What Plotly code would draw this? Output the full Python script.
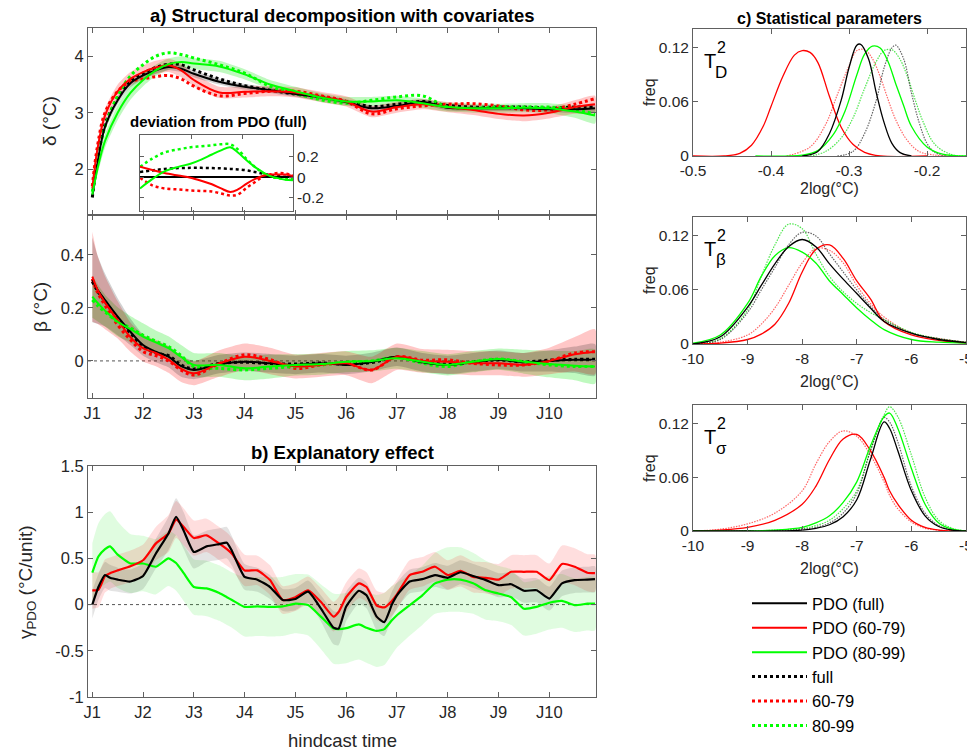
import plotly.graph_objects as go

FONT = "Liberation Sans, Arial, sans-serif"

# ---------------- data ----------------
# hindcast time in years (J1 = 1)
t_a = [1.0, 1.1, 1.25, 1.5, 1.75, 2.0, 2.25, 2.5, 2.75, 3.0, 3.5, 4.0, 4.5, 5.0, 5.5,
       6.0, 6.5, 7.0, 7.5, 8.0, 8.5, 9.0, 9.5, 10.0, 10.5, 10.9]

delta_pdo_full = [1.52, 2.1, 2.75, 3.22, 3.52, 3.66, 3.75, 3.81, 3.78, 3.69, 3.55, 3.46, 3.4, 3.33, 3.27,
                  3.19, 3.08, 3.12, 3.19, 3.09, 3.08, 3.08, 3.08, 3.06, 3.06, 3.08]
delta_pdo_6079 = [1.66, 2.35, 2.95, 3.38, 3.6, 3.72, 3.8, 3.84, 3.75, 3.58, 3.36, 3.37, 3.38, 3.36, 3.28,
                  3.2, 3.02, 3.1, 3.15, 3.1, 3.05, 2.98, 2.95, 3.0, 3.1, 3.15]
delta_pdo_8099 = [1.55, 2.0, 2.5, 3.0, 3.35, 3.58, 3.75, 3.86, 3.9, 3.87, 3.82, 3.68, 3.5, 3.38, 3.27,
                  3.2, 3.2, 3.22, 3.17, 3.1, 3.08, 3.08, 3.09, 3.08, 3.02, 2.95]
delta_full = [1.5, 2.15, 2.8, 3.25, 3.55, 3.7, 3.8, 3.86, 3.85, 3.76, 3.6, 3.48, 3.4, 3.33, 3.28,
              3.2, 3.11, 3.15, 3.2, 3.13, 3.1, 3.1, 3.1, 3.08, 3.1, 3.1]
delta_6079 = [1.7, 2.4, 3.0, 3.38, 3.55, 3.6, 3.64, 3.66, 3.6, 3.47, 3.3, 3.34, 3.38, 3.38, 3.3,
              3.2, 2.98, 3.07, 3.12, 3.15, 3.16, 3.12, 3.05, 3.05, 3.15, 3.25]
delta_8099 = [1.6, 2.15, 2.75, 3.3, 3.65, 3.85, 4.0, 4.06, 4.03, 3.97, 3.85, 3.7, 3.47, 3.34, 3.23,
              3.17, 3.22, 3.28, 3.3, 3.1, 3.08, 3.1, 3.1, 3.1, 3.05, 2.98]
delta_unc_full = [0.04, 0.06, 0.07, 0.07, 0.07, 0.07, 0.06, 0.06, 0.06, 0.06, 0.05, 0.05, 0.05, 0.05, 0.05,
                  0.05, 0.05, 0.05, 0.05, 0.05, 0.05, 0.05, 0.05, 0.05, 0.06, 0.07]
delta_unc_6079 = [0.05, 0.1, 0.12, 0.12, 0.12, 0.12, 0.12, 0.12, 0.12, 0.11, 0.1, 0.1, 0.09, 0.09, 0.09,
                  0.09, 0.1, 0.1, 0.09, 0.09, 0.09, 0.09, 0.1, 0.1, 0.12, 0.15]
delta_unc_8099 = [0.05, 0.1, 0.12, 0.13, 0.12, 0.11, 0.1, 0.1, 0.1, 0.1, 0.1, 0.09, 0.08, 0.08, 0.08,
                  0.08, 0.08, 0.08, 0.08, 0.08, 0.08, 0.08, 0.08, 0.09, 0.11, 0.14]

beta_pdo_full = [0.306, 0.27, 0.23, 0.167, 0.11, 0.06, 0.035, 0.016, -0.02, -0.034, -0.012, -0.003, -0.009,
                 -0.015, -0.009, -0.015, -0.004, 0.016, -0.005, -0.015, -0.005, 0.004, -0.005, 0.0, 0.004, 0.004]
beta_pdo_6079 = [0.318, 0.27, 0.22, 0.155, 0.09, 0.048, 0.03, 0.005, -0.03, -0.047, -0.01, 0.016, 0.0,
                 -0.021, -0.015, -0.009, -0.034, 0.016, 0.0, -0.003, -0.009, -0.009, -0.015, 0.0, 0.025, 0.035]
beta_pdo_8099 = [0.243, 0.22, 0.19, 0.148, 0.12, 0.092, 0.07, 0.048, 0.015, -0.015, -0.015, -0.028, -0.021,
                 -0.015, -0.012, -0.003, 0.0, 0.01, -0.003, -0.015, -0.003, 0.007, -0.003, -0.012, -0.018, -0.021]
beta_full = [0.3, 0.265, 0.225, 0.16, 0.105, 0.055, 0.03, 0.02, -0.015, -0.03, -0.01, -0.005, -0.01,
             -0.012, -0.008, -0.012, -0.006, 0.014, -0.004, -0.012, -0.004, 0.004, -0.004, 0.003, 0.006, 0.006]
beta_6079 = [0.31, 0.26, 0.21, 0.136, 0.08, 0.035, 0.02, 0.0, -0.035, -0.053, -0.01, 0.023, 0.005,
             -0.028, -0.015, -0.009, -0.034, 0.016, 0.003, 0.004, -0.009, -0.015, -0.015, 0.0, 0.03, 0.035]
beta_8099 = [0.23, 0.21, 0.185, 0.148, 0.125, 0.097, 0.075, 0.054, 0.02, -0.021, -0.028, -0.034, -0.028,
             -0.021, -0.015, -0.005, 0.0, 0.013, -0.009, -0.021, -0.003, 0.007, -0.003, -0.015, -0.021, -0.021]
beta_unc_full = [0.16, 0.13, 0.1, 0.07, 0.05, 0.04, 0.04, 0.04, 0.04, 0.035, 0.035, 0.035, 0.035,
                 0.035, 0.035, 0.035, 0.035, 0.035, 0.035, 0.035, 0.035, 0.035, 0.035, 0.04, 0.05, 0.06]
beta_unc_6079 = [0.17, 0.13, 0.1, 0.07, 0.055, 0.05, 0.05, 0.05, 0.05, 0.045, 0.05, 0.05, 0.05,
                 0.045, 0.045, 0.045, 0.05, 0.05, 0.045, 0.045, 0.045, 0.045, 0.045, 0.05, 0.065, 0.085]
beta_unc_8099 = [0.08, 0.07, 0.06, 0.055, 0.05, 0.05, 0.045, 0.045, 0.045, 0.045, 0.045, 0.045, 0.045,
                 0.04, 0.04, 0.04, 0.04, 0.04, 0.04, 0.04, 0.04, 0.04, 0.045, 0.05, 0.055, 0.065]

# inset: deviation from PDO (full), normalised position along inset
s_inset = [0, 0.08, 0.16, 0.25, 0.33, 0.4, 0.47, 0.53, 0.59, 0.64, 0.7, 0.75, 0.8, 0.85, 0.9, 0.95, 1.0]
dev_pdo_full = [0, 0, 0, 0, 0, 0, 0, 0, 0, 0, 0, 0, 0, 0, 0, 0, 0]
dev_pdo_6079 = [0.1, 0.07, 0.04, 0.015, -0.006, -0.035, -0.07, -0.11, -0.145, -0.12, -0.06, -0.02, 0.01, 0.025, 0.025, 0.025, 0.01]
dev_pdo_8099 = [-0.11, -0.02, 0.055, 0.1, 0.13, 0.17, 0.22, 0.26, 0.29, 0.24, 0.16, 0.1, 0.05, 0.01, -0.01, -0.025, -0.03]
dev_full = [0.05, 0.065, 0.08, 0.088, 0.09, 0.09, 0.088, 0.085, 0.08, 0.075, 0.065, 0.05, 0.035, 0.02, 0.01, 0.003, 0.0]
dev_6079 = [-0.006, -0.08, -0.11, -0.12, -0.13, -0.135, -0.14, -0.16, -0.18, -0.17, -0.1, -0.05, 0.0, 0.025, 0.04, 0.035, 0.015]
dev_8099 = [0.1, 0.18, 0.24, 0.27, 0.29, 0.3, 0.31, 0.32, 0.32, 0.27, 0.17, 0.1, 0.045, 0.005, -0.01, -0.02, -0.02]

# panel b: explanatory effect gamma_PDO
t_b = [1.0, 1.12, 1.25, 1.35, 1.5, 1.75, 2.0, 2.25, 2.5, 2.65, 2.8, 3.0, 3.25, 3.5, 3.65, 3.75,
       4.0, 4.25, 4.5, 4.75, 5.0, 5.25, 5.5, 5.75, 5.85, 6.0, 6.25, 6.4, 6.6, 6.75, 6.9,
       7.0, 7.25, 7.5, 7.75, 8.0, 8.25, 8.5, 8.75, 9.0, 9.25, 9.5, 9.75, 10.0, 10.25, 10.5, 10.75, 10.9]
gamma_full = [0.0, 0.19, 0.32, 0.29, 0.27, 0.25, 0.31, 0.55, 0.77, 0.95, 0.80, 0.57, 0.63, 0.655, 0.67, 0.58,
              0.30, 0.27, 0.19, 0.05, 0.06, 0.14, -0.04, -0.25, -0.26, -0.02, 0.15, 0.10, -0.13, -0.19, 0.0,
              0.10, 0.25, 0.275, 0.32, 0.29, 0.35, 0.31, 0.265, 0.21, 0.22, 0.15, 0.155, 0.065, 0.23, 0.265, 0.27, 0.275]
gamma_6079 = [0.155, 0.16, 0.31, 0.34, 0.37, 0.415, 0.48, 0.66, 0.77, 0.92, 0.84, 0.72, 0.75, 0.66, 0.60, 0.55,
              0.37, 0.37, 0.265, 0.05, 0.08, 0.155, 0.03, -0.13, -0.08, 0.08, 0.23, 0.19, -0.01, -0.03, 0.04,
              0.11, 0.32, 0.355, 0.41, 0.32, 0.365, 0.30, 0.29, 0.27, 0.355, 0.355, 0.355, 0.265, 0.44, 0.41, 0.345, 0.34]
gamma_8099 = [0.345, 0.52, 0.60, 0.63, 0.54, 0.445, 0.445, 0.41, 0.50, 0.45, 0.34, 0.19, 0.175, 0.125, 0.08, 0.05,
              -0.025, -0.02, -0.025, -0.02, 0.01, -0.005, -0.13, -0.26, -0.265, -0.255, -0.215, -0.25, -0.285, -0.265, -0.17,
              -0.115, -0.007, 0.10, 0.23, 0.27, 0.27, 0.23, 0.155, 0.12, 0.08, -0.045, -0.025, 0.02, 0.04, -0.007, 0.01, 0.01]
gamma_unc_full = [0.15, 0.14, 0.14, 0.14, 0.13, 0.13, 0.14, 0.16, 0.18, 0.2, 0.2, 0.18, 0.17, 0.17, 0.17, 0.16,
                  0.14, 0.13, 0.13, 0.12, 0.12, 0.12, 0.14, 0.18, 0.18, 0.16, 0.14, 0.14, 0.15, 0.15, 0.14,
                  0.14, 0.13, 0.13, 0.13, 0.13, 0.13, 0.13, 0.13, 0.13, 0.13, 0.13, 0.13, 0.13, 0.14, 0.14, 0.14, 0.14]
gamma_unc_6079 = [0.2, 0.19, 0.18, 0.17, 0.17, 0.17, 0.17, 0.18, 0.2, 0.2, 0.2, 0.19, 0.18, 0.18, 0.18, 0.17,
                  0.17, 0.16, 0.16, 0.15, 0.15, 0.15, 0.15, 0.16, 0.16, 0.16, 0.16, 0.16, 0.16, 0.16, 0.16,
                  0.16, 0.16, 0.16, 0.16, 0.16, 0.17, 0.17, 0.17, 0.17, 0.18, 0.18, 0.18, 0.18, 0.2, 0.2, 0.2, 0.2]
gamma_unc_8099 = [0.32, 0.36, 0.38, 0.38, 0.36, 0.32, 0.3, 0.3, 0.3, 0.3, 0.3, 0.3, 0.3, 0.3, 0.3, 0.3,
                  0.32, 0.32, 0.32, 0.32, 0.32, 0.33, 0.35, 0.38, 0.38, 0.38, 0.38, 0.38, 0.39, 0.39, 0.37,
                  0.35, 0.33, 0.32, 0.33, 0.35, 0.35, 0.33, 0.32, 0.3, 0.3, 0.29, 0.29, 0.29, 0.29, 0.29, 0.29, 0.29]

# panel c: statistical parameters (frequency distributions)
tD_x_pdo_full = [-0.36, -0.34, -0.325, -0.31, -0.3, -0.29, -0.285, -0.275, -0.265, -0.255, -0.245, -0.235, -0.22]
tD_y_pdo_full = [0, 0.005, 0.025, 0.062, 0.098, 0.123, 0.124, 0.108, 0.07, 0.037, 0.014, 0.004, 0]
tD_x_pdo_6079 = [-0.5, -0.46, -0.44, -0.425, -0.41, -0.4, -0.385, -0.37, -0.36, -0.35, -0.34, -0.325, -0.31, -0.295, -0.28, -0.26, -0.2]
tD_y_pdo_6079 = [0, 0.0, 0.003, 0.012, 0.033, 0.055, 0.088, 0.112, 0.117, 0.115, 0.104, 0.066, 0.032, 0.013, 0.004, 0.0, 0.0]
tD_x_pdo_8099 = [-0.42, -0.36, -0.34, -0.32, -0.305, -0.29, -0.28, -0.27, -0.26, -0.25, -0.24, -0.23, -0.22, -0.2, -0.18, -0.15]
tD_y_pdo_8099 = [0, 0.001, 0.006, 0.024, 0.05, 0.09, 0.113, 0.122, 0.12, 0.105, 0.08, 0.056, 0.033, 0.01, 0.002, 0]
tD_x_full = [-0.315, -0.295, -0.28, -0.265, -0.255, -0.245, -0.24, -0.23, -0.22, -0.21, -0.2, -0.19, -0.175]
tD_y_full = [0, 0.005, 0.025, 0.062, 0.098, 0.12, 0.123, 0.108, 0.07, 0.037, 0.014, 0.004, 0]
tD_x_6079 = [-0.38, -0.35, -0.33, -0.315, -0.3, -0.29, -0.28, -0.27, -0.26, -0.25, -0.24, -0.225, -0.21, -0.19, -0.17]
tD_y_6079 = [0, 0.01, 0.035, 0.068, 0.1, 0.117, 0.118, 0.108, 0.088, 0.063, 0.04, 0.017, 0.005, 0.001, 0]
tD_x_8099 = [-0.35, -0.33, -0.31, -0.295, -0.28, -0.265, -0.255, -0.245, -0.235, -0.225, -0.215, -0.205, -0.19, -0.17, -0.15]
tD_y_8099 = [0, 0.005, 0.02, 0.042, 0.075, 0.105, 0.117, 0.118, 0.108, 0.088, 0.062, 0.038, 0.013, 0.002, 0]

tB_x = [-10, -9.5, -9, -8.75, -8.5, -8.25, -8, -7.75, -7.5, -7.25, -7, -6.75, -6.5, -6, -5.5, -5]
tB_pdo_full = [0, 0.008, 0.041, 0.065, 0.089, 0.108, 0.116, 0.108, 0.089, 0.072, 0.056, 0.04, 0.025, 0.012, 0.005, 0.0015]
tB_pdo_6079 = [0, 0.001, 0.005, 0.011, 0.022, 0.045, 0.08, 0.105, 0.11, 0.095, 0.07, 0.05, 0.025, 0.01, 0.004, 0.001]
tB_pdo_8099 = [0.001, 0.01, 0.045, 0.075, 0.098, 0.107, 0.102, 0.09, 0.07, 0.055, 0.04, 0.027, 0.016, 0.005, 0.002, 0.001]
tB_full = [0, 0.005, 0.035, 0.06, 0.085, 0.11, 0.124, 0.12, 0.1, 0.08, 0.06, 0.042, 0.027, 0.012, 0.006, 0.002]
tB_6079 = [0, 0.002, 0.01, 0.022, 0.04, 0.065, 0.09, 0.106, 0.104, 0.09, 0.065, 0.045, 0.03, 0.012, 0.006, 0.002]
tB_8099 = [0, 0.006, 0.038, 0.075, 0.11, 0.133, 0.128, 0.1, 0.075, 0.058, 0.045, 0.035, 0.027, 0.013, 0.006, 0.002]

tS_x = [-10, -9.5, -9, -8.5, -8, -7.75, -7.5, -7.25, -7, -6.75, -6.5, -6.4, -6.25, -6, -5.75, -5.5, -5.25, -5]
tS_pdo_full = [0, 0, 0, 0, 0.001, 0.003, 0.007, 0.016, 0.035, 0.08, 0.122, 0.115, 0.09, 0.045, 0.017, 0.005, 0.001, 0]
tS_pdo_6079 = [0, 0.001, 0.004, 0.012, 0.03, 0.05, 0.08, 0.103, 0.108, 0.09, 0.06, 0.045, 0.03, 0.012, 0.004, 0.001, 0, 0]
tS_pdo_8099 = [0, 0, 0, 0.001, 0.004, 0.009, 0.017, 0.032, 0.055, 0.095, 0.128, 0.132, 0.115, 0.07, 0.03, 0.009, 0.002, 0]
tS_full = [0, 0, 0, 0, 0.002, 0.004, 0.009, 0.02, 0.042, 0.09, 0.127, 0.122, 0.1, 0.05, 0.02, 0.006, 0.001, 0]
tS_6079 = [0, 0.002, 0.008, 0.02, 0.045, 0.075, 0.1, 0.112, 0.106, 0.085, 0.055, 0.04, 0.025, 0.01, 0.003, 0.001, 0, 0]
tS_8099 = [0, 0, 0, 0.001, 0.003, 0.006, 0.012, 0.025, 0.045, 0.09, 0.13, 0.139, 0.128, 0.085, 0.038, 0.012, 0.003, 0]

year_ticks = [1, 2, 3, 4, 5, 6, 7, 8, 9, 10]
year_labels = ["J1", "J2", "J3", "J4", "J5", "J6", "J7", "J8", "J9", "J10"]
legend_names = ["PDO (full)", "PDO (60-79)", "PDO (80-99)", "full", "60-79", "80-99"]

# ---------------- styling ----------------
BLACK, RED, GREEN = "#000000", "#ff0000", "#00ff00"
AXC = "#606060"
TXT = "#262626"

# the page adds an 8 px body margin; size the figure so that it fills the 975x752 window
OFF = 8
FW, FH = 975 - OFF, 752 - OFF


def px_x(p):
    return (p - OFF) / FW


def px_y(p):
    return 1 - (p - OFF) / FH


fig = go.Figure()


def band(x, y, unc, fill, xa, ya):
    hi = [a + b for a, b in zip(y, unc)]
    lo = [a - b for a, b in zip(y, unc)]
    fig.add_trace(go.Scatter(x=list(x) + list(x)[::-1], y=hi + lo[::-1], fill="toself",
                             fillcolor=fill, line=dict(width=0, shape="spline", smoothing=0.6),
                             mode="lines", hoverinfo="skip", showlegend=False, xaxis=xa, yaxis=ya))


def line(x, y, color, xa, ya, dash="solid", width=2, name=None, rank=None, smoothing=1.0):
    fig.add_trace(go.Scatter(x=x, y=y, mode="lines", xaxis=xa, yaxis=ya,
                             line=dict(color=color, width=width, dash=dash, shape="spline", smoothing=smoothing),
                             name=name, showlegend=name is not None,
                             legendrank=rank if rank is not None else 1000))


# ---- panel a: delta ----
band(t_a, delta_pdo_8099, delta_unc_8099, "rgba(0,230,0,0.25)", "x", "y")
band(t_a, delta_pdo_6079, delta_unc_6079, "rgba(255,0,0,0.22)", "x", "y")
band(t_a, delta_pdo_full, delta_unc_full, "rgba(0,0,0,0.18)", "x", "y")
line(t_a, delta_full, BLACK, "x", "y", dash="dot", width=3, name=legend_names[3], rank=4)
line(t_a, delta_6079, RED, "x", "y", dash="dot", width=3, name=legend_names[4], rank=5)
line(t_a, delta_8099, GREEN, "x", "y", dash="dot", width=3, name=legend_names[5], rank=6)
line(t_a, delta_pdo_full, BLACK, "x", "y", width=2, name=legend_names[0], rank=1)
line(t_a, delta_pdo_6079, RED, "x", "y", width=2, name=legend_names[1], rank=2)
line(t_a, delta_pdo_8099, GREEN, "x", "y", width=2, name=legend_names[2], rank=3)

# ---- panel a: beta ----
band(t_a, beta_pdo_8099, beta_unc_8099, "rgba(0,230,0,0.25)", "x2", "y2")
band(t_a, beta_pdo_6079, beta_unc_6079, "rgba(255,0,0,0.22)", "x2", "y2")
band(t_a, beta_pdo_full, beta_unc_full, "rgba(0,0,0,0.18)", "x2", "y2")
line(t_a, beta_full, BLACK, "x2", "y2", dash="dot", width=3)
line(t_a, beta_6079, RED, "x2", "y2", dash="dot", width=3)
line(t_a, beta_8099, GREEN, "x2", "y2", dash="dot", width=3)
line(t_a, beta_pdo_full, BLACK, "x2", "y2")
line(t_a, beta_pdo_6079, RED, "x2", "y2")
line(t_a, beta_pdo_8099, GREEN, "x2", "y2")

# ---- inset ----
line(s_inset, dev_full, BLACK, "x4", "y4", dash="dot", width=2.5)
line(s_inset, dev_6079, RED, "x4", "y4", dash="dot", width=2.5)
line(s_inset, dev_8099, GREEN, "x4", "y4", dash="dot", width=2.5)
line(s_inset, dev_pdo_full, BLACK, "x4", "y4")
line(s_inset, dev_pdo_6079, RED, "x4", "y4")
line(s_inset, dev_pdo_8099, GREEN, "x4", "y4")

# ---- panel b ----
band(t_b, gamma_8099, gamma_unc_8099, "rgba(0,230,0,0.12)", "x3", "y3")
band(t_b, gamma_6079, gamma_unc_6079, "rgba(255,0,0,0.13)", "x3", "y3")
band(t_b, gamma_full, gamma_unc_full, "rgba(0,0,0,0.11)", "x3", "y3")
line(t_b, gamma_8099, GREEN, "x3", "y3", width=2.2, smoothing=0.5)
line(t_b, gamma_6079, RED, "x3", "y3", width=2.2, smoothing=0.5)
line(t_b, gamma_full, BLACK, "x3", "y3", width=2.2, smoothing=0.5)

# ---- panel c ----
LRED, LGREEN, LBLACK = "rgba(255,0,0,0.6)", "rgba(0,220,0,0.7)", "rgba(0,0,0,0.6)"
FINE = "1.5px,1.2px"
line(tD_x_6079, tD_y_6079, LRED, "x5", "y5", dash=FINE, width=1.2)
line(tD_x_8099, tD_y_8099, LGREEN, "x5", "y5", dash=FINE, width=1.2)
line(tD_x_full, tD_y_full, LBLACK, "x5", "y5", dash=FINE, width=1.2)
line(tD_x_pdo_6079, tD_y_pdo_6079, RED, "x5", "y5", width=1.3)
line(tD_x_pdo_8099, tD_y_pdo_8099, GREEN, "x5", "y5", width=1.3)
line(tD_x_pdo_full, tD_y_pdo_full, BLACK, "x5", "y5", width=1.3)

line(tB_x, tB_6079, LRED, "x6", "y6", dash=FINE, width=1.2)
line(tB_x, tB_8099, LGREEN, "x6", "y6", dash=FINE, width=1.2)
line(tB_x, tB_full, LBLACK, "x6", "y6", dash=FINE, width=1.2)
line(tB_x, tB_pdo_6079, RED, "x6", "y6", width=1.3)
line(tB_x, tB_pdo_8099, GREEN, "x6", "y6", width=1.3)
line(tB_x, tB_pdo_full, BLACK, "x6", "y6", width=1.3)

line(tS_x, tS_6079, LRED, "x7", "y7", dash=FINE, width=1.2)
line(tS_x, tS_8099, LGREEN, "x7", "y7", dash=FINE, width=1.2)
line(tS_x, tS_full, LBLACK, "x7", "y7", dash=FINE, width=1.2)
line(tS_x, tS_pdo_6079, RED, "x7", "y7", width=1.3)
line(tS_x, tS_pdo_8099, GREEN, "x7", "y7", width=1.3)
line(tS_x, tS_pdo_full, BLACK, "x7", "y7", width=1.3)

# ---------------- axes ----------------
def ax(**kw):
    base = dict(showline=True, linecolor=AXC, linewidth=1, mirror="allticks", ticks="inside",
                ticklen=5, tickcolor=AXC, showgrid=False, zeroline=False, automargin=False,
                tickfont=dict(family=FONT, size=16.5, color=TXT))
    base.update(kw)
    return base


LX0, LX1 = px_x(88), px_x(596)
RX0, RX1 = px_x(693), px_x(966)
t_range = [0.915, 10.92]
cfont = dict(family=FONT, size=15.5, color=TXT)

fig.update_layout(
    xaxis=ax(domain=[LX0, LX1], anchor="y", range=t_range, tickvals=year_ticks, showticklabels=False),
    yaxis=ax(domain=[px_y(215), px_y(28)], anchor="x", range=[1.19, 4.5], tickvals=[2, 3, 4]),
    xaxis2=ax(domain=[LX0, LX1], anchor="y2", range=t_range, tickvals=year_ticks, ticktext=year_labels),
    yaxis2=ax(domain=[px_y(398), px_y(215)], anchor="x2", range=[-0.14, 0.551],
              tickvals=[0, 0.2, 0.4], ticktext=["0", "0.2", "0.4"]),
    xaxis3=ax(domain=[LX0, LX1], anchor="y3", range=t_range, tickvals=year_ticks, ticktext=year_labels),
    yaxis3=ax(domain=[px_y(697), px_y(466)], anchor="x3", range=[-1, 1.5],
              tickvals=[-1, -0.5, 0, 0.5, 1, 1.5], ticktext=["-1", "-0.5", "0", "0.5", "1", "1.5"]),
    xaxis4=ax(domain=[px_x(140), px_x(293)], anchor="y4", range=[0, 1], tickvals=[1 / 3, 2 / 3],
              showticklabels=False, ticklen=4),
    yaxis4=ax(domain=[px_y(211), px_y(135)], anchor="x4", range=[-0.33, 0.41], side="right",
              tickvals=[-0.2, 0, 0.2], ticktext=["-0.2", "0", "0.2"], ticklen=4, tickfont=cfont),
    xaxis5=ax(domain=[RX0, RX1], anchor="y5", range=[-0.5, -0.15], tickvals=[-0.5, -0.4, -0.3, -0.2],
              ticktext=["-0.5", "-0.4", "-0.3", "-0.2"], tickfont=cfont),
    yaxis5=ax(domain=[px_y(156), px_y(29)], anchor="x5", range=[0, 0.141], tickvals=[0, 0.06, 0.12],
              ticktext=["0", "0.06", "0.12"], tickfont=cfont),
    xaxis6=ax(domain=[RX0, RX1], anchor="y6", range=[-10, -5], tickvals=[-10, -9, -8, -7, -6, -5],
              ticktext=["-10", "-9", "-8", "-7", "-6", "-5"], tickfont=cfont),
    yaxis6=ax(domain=[px_y(344), px_y(217)], anchor="x6", range=[0, 0.141], tickvals=[0, 0.06, 0.12],
              ticktext=["0", "0.06", "0.12"], tickfont=cfont),
    xaxis7=ax(domain=[RX0, RX1], anchor="y7", range=[-10, -5], tickvals=[-10, -9, -8, -7, -6, -5],
              ticktext=["-10", "-9", "-8", "-7", "-6", "-5"], tickfont=cfont),
    yaxis7=ax(domain=[px_y(531), px_y(405)], anchor="x7", range=[0, 0.141], tickvals=[0, 0.06, 0.12],
              ticktext=["0", "0.06", "0.12"], tickfont=cfont),
)

# zero reference lines
for xr, yr in (("x2", "y2"), ("x3", "y3")):
    fig.add_shape(type="line", xref=f"{xr} domain", yref=yr, x0=0, x1=1, y0=0, y1=0,
                  line=dict(color="#555555", width=1, dash="dot"), layer="below")

# ---------------- annotations ----------------
def note(text, x, y, size, bold=False, angle=0, xanchor="center", yanchor="middle", color=TXT):
    fig.add_annotation(text=f"<b>{text}</b>" if bold else text, x=px_x(x), y=px_y(y), xref="paper",
                       yref="paper", showarrow=False, textangle=angle, xanchor=xanchor, yanchor=yanchor,
                       font=dict(family=FONT, size=size, color="#000000" if bold else color))


CX = (88 + 596) / 2
note("a) Structural decomposition with covariates", CX, 15.5, 18.5, bold=True)
note("b) Explanatory effect", CX, 452, 18.5, bold=True)
note("c) Statistical parameters", 829, 18.5, 16, bold=True)
note("deviation from PDO (full)", 128, 122, 15, bold=True, xanchor="left")
note("δ (°C)", 50, 121, 19, angle=-90)
note("β (°C)", 40, 307, 19, angle=-90)
note("γ<sub>PDO</sub> (°C/unit)", 27, 582, 19, angle=-90)
note("hindcast time", CX, 740, 18.5)
for y0 in (29, 217, 405):
    note("freq", 649, y0 + 63, 16, angle=-90)
    note("T", 710, y0 + 32, 20, color="#000000")
    note("2", 721, y0 + 19, 16, color="#000000")
for y0, sub in ((29, "D"), (217, "β"), (405, "σ")):
    note(sub, 721, y0 + 43, 17, color="#000000")
for yl in (188, 381, 568):
    note("2log(°C)", 829, yl, 16)

fig.update_layout(
    width=FW, height=FH, margin=dict(l=0, r=0, t=0, b=0, autoexpand=False),
    paper_bgcolor="white", plot_bgcolor="rgba(0,0,0,0)",
    font=dict(family=FONT, color=TXT),
    legend=dict(x=px_x(747), y=px_y(586), xanchor="left", yanchor="top",
                font=dict(family=FONT, size=16.5, color="#000000"), bgcolor="rgba(0,0,0,0)",
                tracegroupgap=0, itemwidth=55),
    showlegend=True,
)

fig.write_html("out.html")
